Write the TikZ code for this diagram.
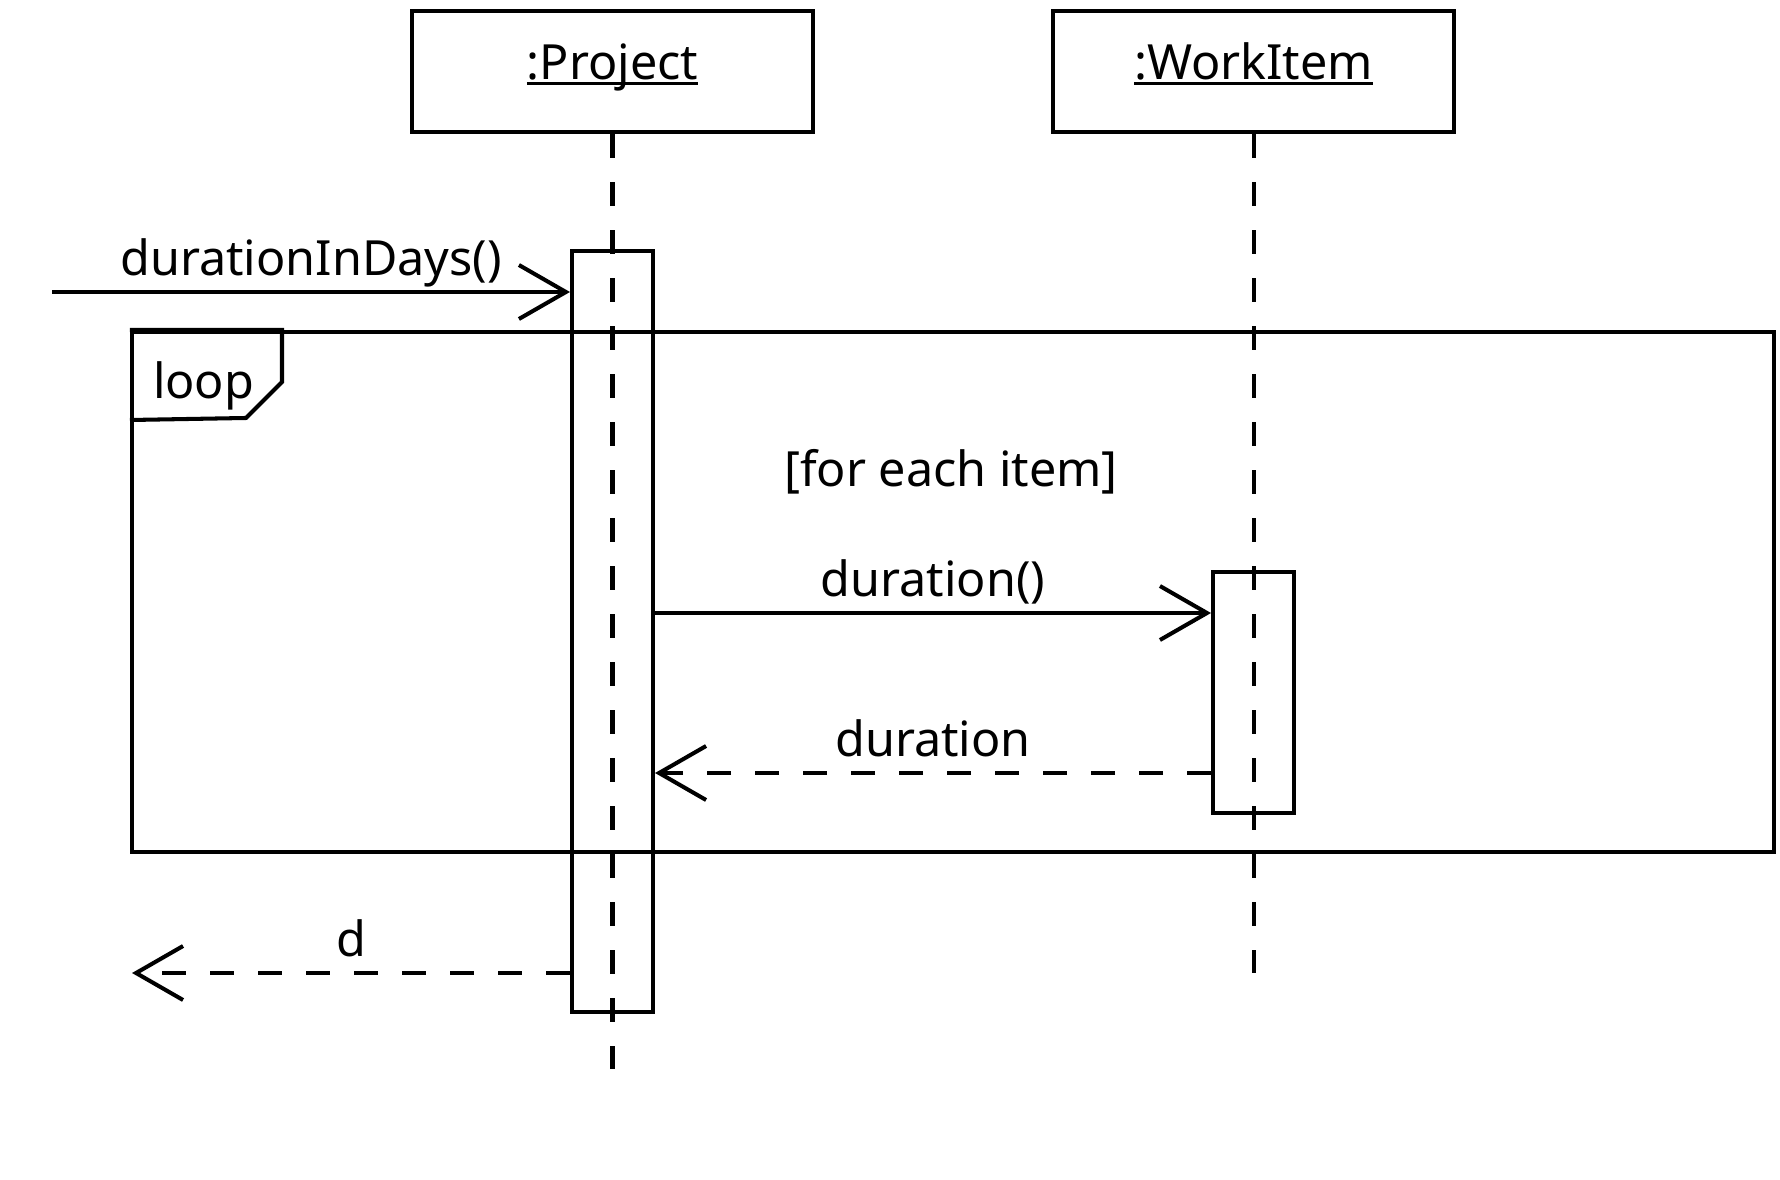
\documentclass[tikz,border=0pt]{standalone}
\usepackage{fontspec}
\setmainfont{Noto Sans}
\usetikzlibrary{arrows.meta,positioning}
\newcommand{\objname}[1]{\sbox0{#1}\rlap{\rule[-0.11em]{\wd0}{0.06em}}\usebox0}

\begin{document}
\begin{tikzpicture}[x=0.1mm,y=-0.1mm,line width=1.15pt,
  font=\fontsize{13.8}{16}\selectfont,
  object/.style={draw,minimum width=40.1mm,minimum height=12.1mm,inner sep=0,
    text height=3.8mm,text depth=2.1mm},
  activation/.style={draw,minimum width=8.1mm,inner sep=0},
  lifeline/.style={dash pattern=on 2.4mm off 2.4mm},
  msg/.style={-{Straight Barb[length=4.7mm,width=5.4mm]}},
  reply/.style={msg,dash pattern=on 2.4mm off 2.4mm},
  lbl/.style={anchor=base,inner sep=0}]
\useasboundingbox (0,0) rectangle (1780,1180);
% objects
\node[object] (project) at (612.5,71.5) {\objname{:Project}};
\node[object, right=23.6mm of project] (workitem) {\objname{:WorkItem}};
\coordinate (projEnd) at (612.5,1069);
\coordinate (workEnd) at (workitem.south |- 0,973);
% activations
\node[activation, minimum height=76.1mm] (projAct) at (612.5,631.5) {};
\node[activation, minimum height=24.1mm] (workAct) at (workitem.south |- 0,692.5) {};
\draw[lifeline] (project) -- (projEnd);
\draw[lifeline] (workitem) -- (workEnd);
% loop fragment
\node[draw, minimum width=164.2mm, minimum height=52mm, inner sep=0] (loop) at (953,592) {};
\draw (loop.north west) -- ++(152,0) -- ++(0,52) -- ++(-36,36) -- (loop.west |- 0,420);
\node[lbl, anchor=base west] (loopname) at (151,399) {loop};
\node[lbl] (guard) at (951,487) {[for each item]};
% messages
\coordinate (caller) at (52,292);
\coordinate (callerRet) at (132,973);
\draw[msg] (caller) -- (caller -| projAct.west)
  node[lbl, midway, yshift=1.65mm] (callLbl) {durationInDays()};
\draw[msg] (projAct.east |- 0,613) -- (workAct.west |- 0,613)
  node[lbl, midway, yshift=1.65mm] (durLbl) {duration()};
\draw[reply] (workAct.west |- 0,773) -- (projAct.east |- 0,773)
  node[lbl, midway, yshift=1.65mm] (retLbl) {duration};
\draw[reply] (projAct.west |- callerRet) -- (callerRet)
  node[lbl, midway, yshift=1.65mm] (dLbl) {d};
\end{tikzpicture}
\end{document}
